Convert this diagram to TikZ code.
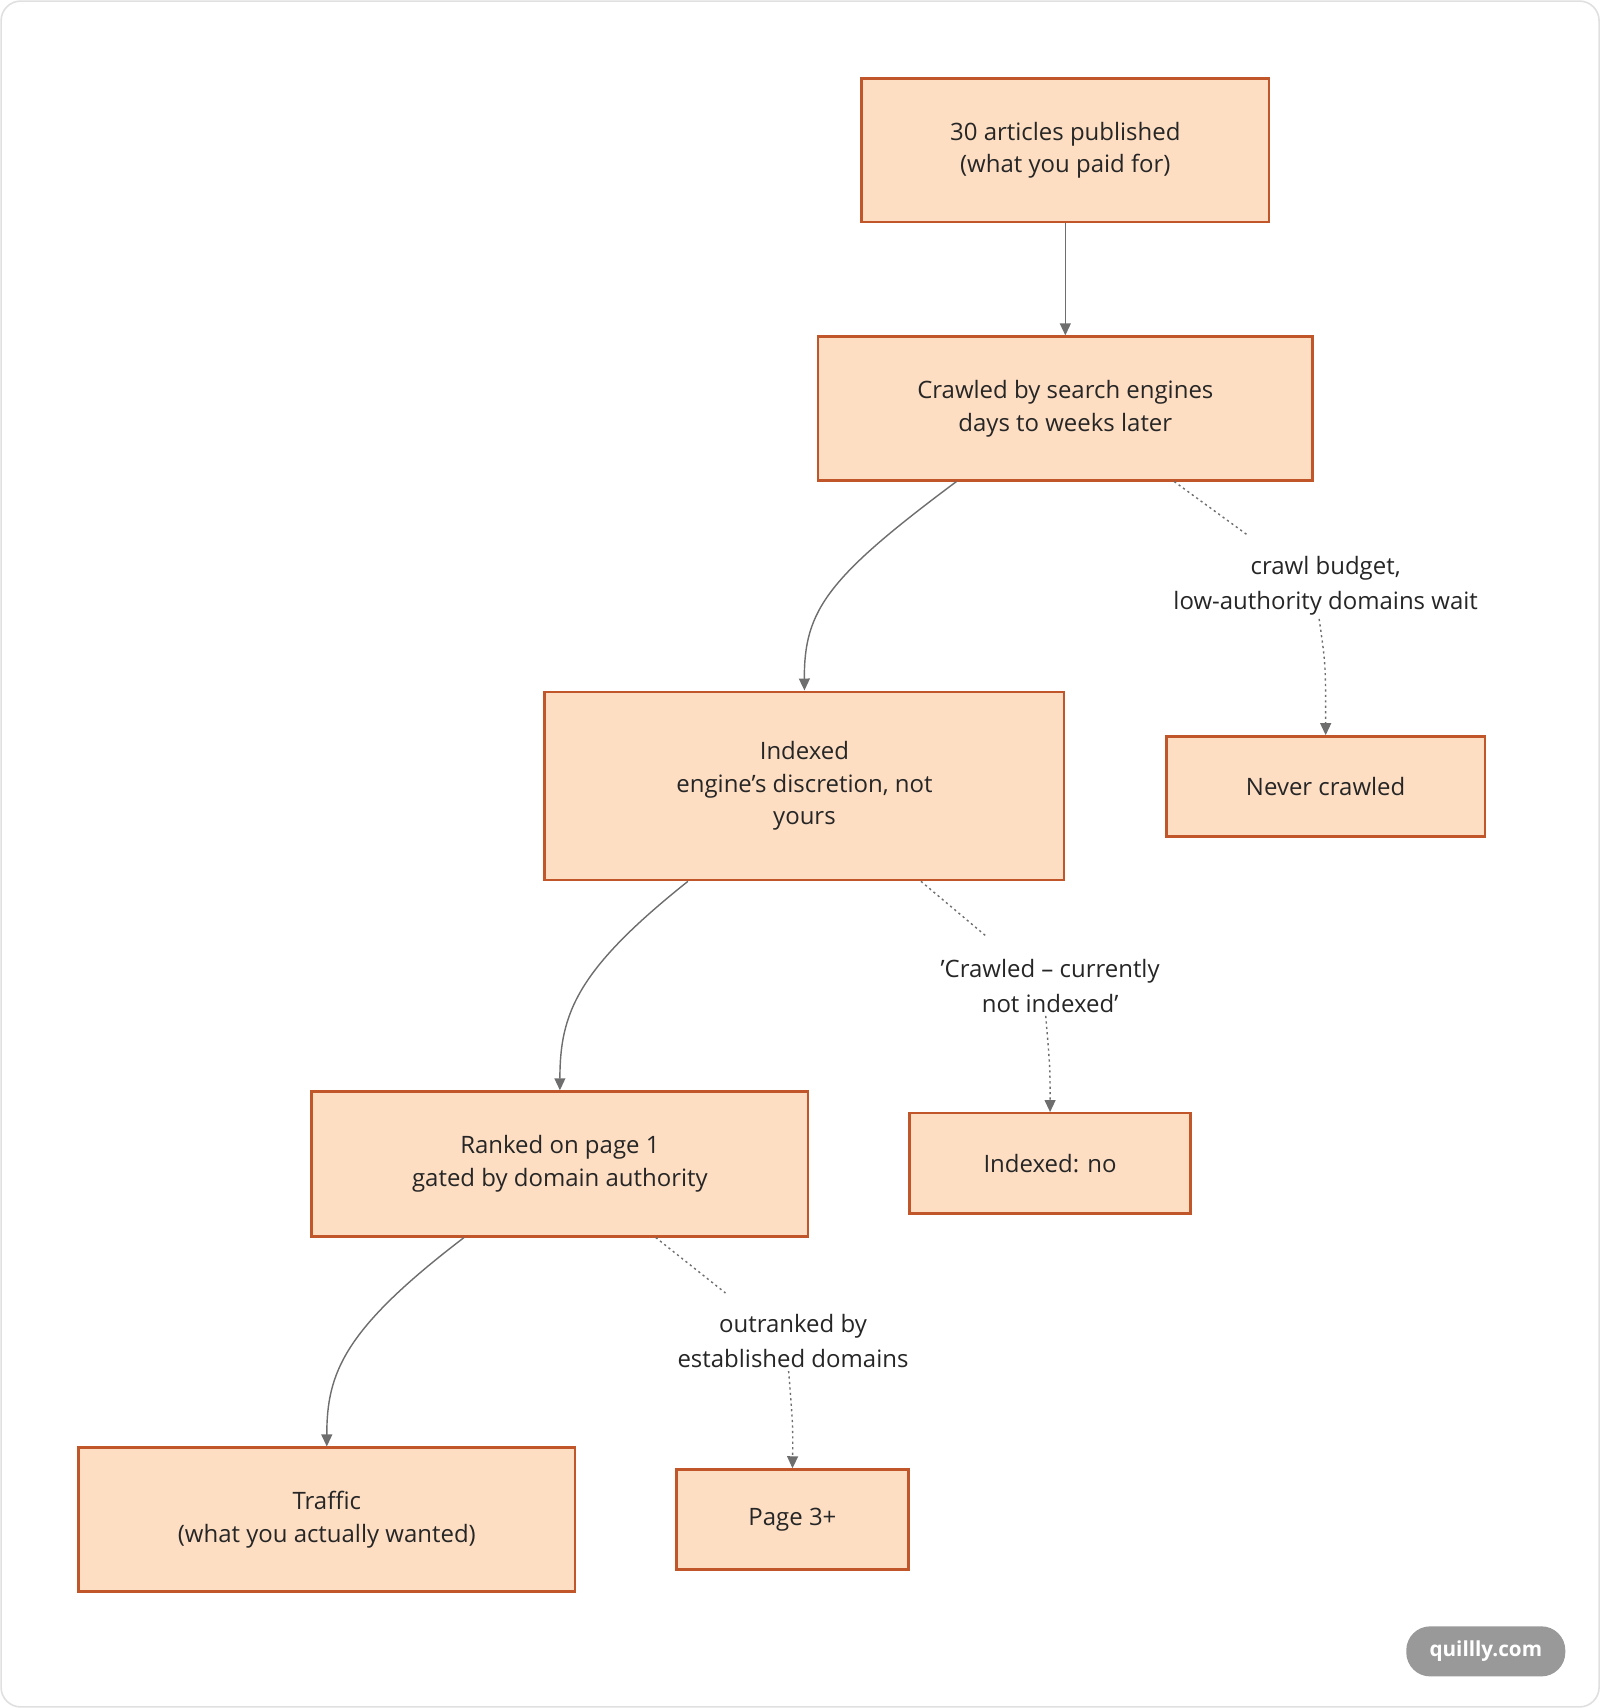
\documentclass[tikz,border=0pt]{standalone}
\usepackage{fontspec}
\setmainfont{Open Sans}
\usetikzlibrary{arrows.meta}
\definecolor{bfill}{HTML}{FDDEC3}
\definecolor{bdraw}{HTML}{C0562A}
\definecolor{edge}{HTML}{6E6E6E}
\tikzset{
 box/.style={draw=bdraw,fill=bfill,line width=2.2pt,align=center,font=\fontsize{22}{30}\selectfont,text=black!85,inner sep=0pt},
 lab/.style={align=center,font=\fontsize{22}{32}\selectfont,text=black!85,fill=white,inner sep=3pt},
 conn/.style={draw=edge,line width=1.3pt,-{Triangle[length=11pt,width=10pt]}},
 dconn/.style={draw=edge,line width=1.3pt,dash pattern=on 2pt off 3pt},
}
\begin{document}
\begin{tikzpicture}[x=1pt,y=-1pt]
\useasboundingbox (0,0) rectangle (1469,1568);
\draw[black!12,line width=1.5pt,rounded corners=18pt] (1,1) rectangle (1468,1567);
\node[box,minimum width=374pt,minimum height=132pt] (A) at (978,138) {30 articles published\\(what you paid for)};
\node[box,minimum width=454pt,minimum height=132pt] (B) at (978,375) {Crawled by search engines\\days to weeks later};
\node[box,minimum width=477pt,minimum height=173pt] (C) at (738.5,721.5) {Indexed\\engine's discretion, not\\yours};
\node[box,minimum width=292pt,minimum height=92pt] (D) at (1217,722) {Never crawled};
\node[box,minimum width=456pt,minimum height=133pt] (E) at (514,1068.5) {Ranked on page 1\\gated by domain authority};
\node[box,minimum width=258pt,minimum height=92pt] (F) at (964,1068) {Indexed: no};
\node[box,minimum width=456pt,minimum height=132pt] (G) at (300,1395) {Traffic\\(what you actually wanted)};
\node[box,minimum width=213pt,minimum height=92pt] (H) at (727.5,1395) {Page 3+};
\node[lab] (L1) at (1217,538) {crawl budget,\\low-authority domains wait};
\node[lab] (L2) at (964,905) {'Crawled – currently\\not indexed'};
\node[lab] (L3) at (728,1231) {outranked by\\established domains};
\draw[conn] (A) -- (B);
\draw[conn] ([xshift=-100pt]B.south) .. controls (760,530) and (738,560) .. (C.north);
\draw[conn] ([xshift=-107pt]C.south) .. controls (530,890) and (514,930) .. (E.north);
\draw[conn] ([xshift=-88pt]E.south) .. controls (316,1220) and (300,1260) .. (G.north);
\coordinate (d1) at (1145,491);
\coordinate (d2) at (906,860);
\coordinate (d3) at (666,1187);
\draw[dconn] ([xshift=100pt]B.south) -- (d1);
\draw[dconn] ([xshift=107pt]C.south) -- (d2);
\draw[dconn] ([xshift=88pt]E.south) -- (d3);
\draw[dconn,-{Triangle[length=11pt,width=10pt]}] (L1.south -| 1211,0) .. controls (1217,610) .. (D.north);
\draw[dconn,-{Triangle[length=11pt,width=10pt]}] (L2.south -| 960,0) .. controls (964,980) .. (F.north);
\draw[dconn,-{Triangle[length=11pt,width=10pt]}] (L3.south -| 724,0) .. controls (728,1310) .. (H.north);
\node[fill=black!40,text=white,rounded corners=22pt,minimum width=146pt,minimum height=46pt,font=\fontsize{19}{22}\selectfont\bfseries] (W) at (1364,1516) {quillly.com};
\end{tikzpicture}
\end{document}
